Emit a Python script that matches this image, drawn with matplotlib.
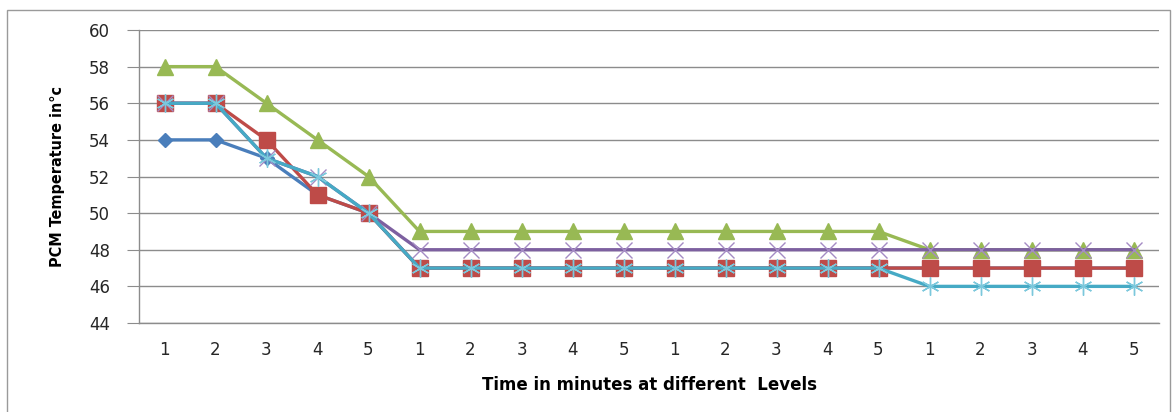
import matplotlib
matplotlib.use("Agg")
import matplotlib.pyplot as plt
from matplotlib.patches import Rectangle

# Time steps (minutes) repeated for each of the four levels
minutes = [1, 2, 3, 4, 5] * 4

series_blue = [54, 54, 53, 51, 50, 47, 47, 47, 47, 47, 47, 47, 47, 47, 47, 47, 47, 47, 47, 47]
series_red = [56, 56, 54, 51, 50, 47, 47, 47, 47, 47, 47, 47, 47, 47, 47, 47, 47, 47, 47, 47]
series_green = [58, 58, 56, 54, 52, 49, 49, 49, 49, 49, 49, 49, 49, 49, 49, 48, 48, 48, 48, 48]
series_purple = [56, 56, 53, 52, 50, 48, 48, 48, 48, 48, 48, 48, 48, 48, 48, 48, 48, 48, 48, 48]
series_cyan = [56, 56, 53, 52, 50, 47, 47, 47, 47, 47, 47, 47, 47, 47, 47, 46, 46, 46, 46, 46]

y_ticks = [44, 46, 48, 50, 52, 54, 56, 58, 60]

W, H = 1175, 412
fig = plt.figure(figsize=(W / 100, H / 100), dpi=100)
fig.patch.set_facecolor("white")

# outer chart border
fig.add_artist(Rectangle((7 / W, -0.01), (1170 - 7) / W, 1 - 10 / H + 0.01,
                         transform=fig.transFigure, fill=False,
                         edgecolor="#9a9a9a", linewidth=1.0))

ax = fig.add_axes([139 / W, 1 - 323 / H, (1159 - 139) / W, (323 - 30) / H])

x = list(range(len(minutes)))
lw = 2.4
ax.plot(x, series_blue, color="#4A7EBB", marker="D", markersize=7, linewidth=lw, zorder=3)
ax.plot(x, series_red, color="#BE4B48", marker="s", markersize=11, linewidth=lw, zorder=4)
ax.plot(x, series_green, color="#98B954", marker="^", markersize=12, linewidth=lw, zorder=5)
ax.plot(x, series_purple, color="#7D60A0", marker="x", markersize=11, markeredgewidth=1.0,
        markeredgecolor="#A58BC4", linewidth=lw, zorder=6)
ax.plot(x, series_cyan, color="#46AAC5", marker=(6, 2, 0), markersize=13, markeredgewidth=1.0,
        markeredgecolor="#7CC8DC", linewidth=lw, zorder=7)

ax.set_xlim(-0.5, len(minutes) - 0.5)
ax.set_ylim(44, 60)
ax.set_yticks(y_ticks)
ax.set_xticks(x)
ax.set_xticklabels([str(m) for m in minutes])

ax.grid(axis="y", color="#8c8c8c", linewidth=1.0)
ax.set_axisbelow(True)
for s in ("top", "right"):
    ax.spines[s].set_visible(False)
for s in ("left", "bottom"):
    ax.spines[s].set_color("#8c8c8c")
    ax.spines[s].set_linewidth(1.0)

ax.tick_params(axis="y", length=9, color="#8c8c8c", labelsize=12, pad=12, labelcolor="#262626")
ax.tick_params(axis="x", length=0, labelsize=12, pad=13, labelcolor="#262626")

ax.set_xlabel("Time in minutes at different  Levels", fontsize=12, fontweight="bold", labelpad=12)
ax.set_ylabel("PCM Temperature in\u00b0c", fontsize=11.5, fontweight="bold", labelpad=17,
              fontstretch="condensed")

fig.savefig("out.png", dpi=100, facecolor="white")
